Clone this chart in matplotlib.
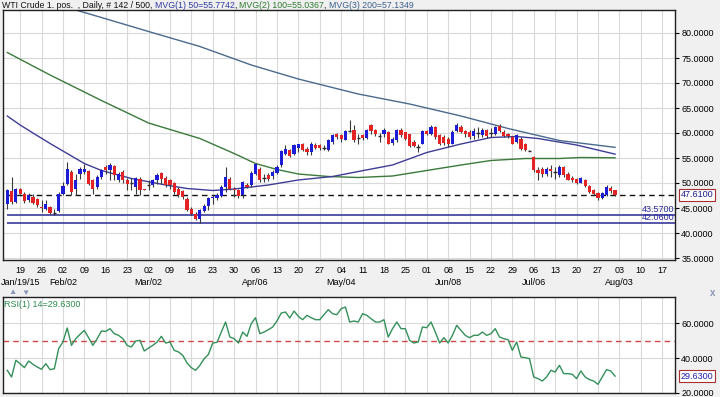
import numpy as np
import matplotlib
matplotlib.use('Agg')
import matplotlib.pyplot as plt
import matplotlib.transforms as mtransforms

plt.rcParams['font.family'] = ['Liberation Sans', 'DejaVu Sans']

# daily candles, Jan 14 .. Jul 31 2015 (one bar per business day)
opens = [45.9, 48.5, 46.3, 48.9, 47.9, 46.6, 47.3, 46.9, 45.3, 44.9,
         45.3, 44.1, 44.4, 47.9, 49.9, 52.3, 48.9, 51.9, 52.3, 52.5,
         50.6, 49.3, 51.3, 53.3, 52.7, 53.4, 50.7, 52.3, 50.6, 50.0,
         49.3, 50.9, 48.9, 49.6, 49.7, 50.6, 52.0, 51.1, 50.6, 50.1,
         48.9, 48.5, 46.9, 44.9, 43.9, 42.9, 44.5, 45.5, 47.0, 47.1,
         47.4, 49.3, 50.9, 48.8, 48.6, 47.6, 49.7, 49.6, 51.9, 52.9,
         51.0, 51.6, 51.4, 52.1, 53.6, 55.9, 56.6, 55.9, 57.0, 57.9,
         56.9, 56.3, 57.6, 57.6, 57.1, 56.6, 58.3, 59.8, 59.6, 58.7,
         60.4, 60.6, 59.0, 59.6, 59.1, 61.6, 60.6, 59.5, 59.8, 60.3,
         58.1, 58.6, 60.7, 60.1, 59.8, 58.3, 57.3, 57.9, 60.5, 59.9,
         61.3, 59.6, 59.3, 58.9, 57.9, 60.5, 61.3, 60.4, 60.3, 59.4,
         60.0, 59.6, 60.6, 60.1, 59.9, 61.5, 60.3, 59.8, 59.3, 58.3,
         58.9, 57.8, 56.5, 55.3, 52.6, 52.7, 51.9, 52.9, 52.3, 51.6,
         53.3, 51.9, 51.1, 50.9, 50.1, 50.6, 49.4, 48.6, 48.1, 47.1,
         47.6, 49.1, 48.6]
highs = [48.9, 51.3, 49.1, 49.1, 48.3, 48.1, 47.9, 47.1, 46.6, 46.6,
         45.4, 44.9, 48.3, 50.3, 54.3, 52.6, 51.9, 53.3, 53.8, 52.6,
         50.9, 51.6, 52.9, 53.6, 54.1, 53.6, 52.3, 52.6, 51.1, 51.1,
         51.3, 51.3, 48.9, 50.7, 50.9, 52.1, 52.3, 51.4, 50.9, 50.3,
         49.3, 48.6, 47.3, 45.3, 44.3, 44.9, 45.9, 47.3, 47.6, 48.1,
         49.6, 53.3, 51.3, 49.3, 48.8, 50.4, 50.0, 52.4, 54.1, 53.3,
         51.9, 52.1, 52.6, 53.7, 56.7, 57.6, 56.9, 57.9, 57.9, 58.1,
         57.3, 58.3, 58.0, 57.9, 57.6, 58.9, 59.8, 60.0, 59.8, 60.6,
         62.6, 61.6, 59.8, 59.8, 60.9, 61.8, 60.9, 60.1, 61.0, 60.5,
         59.3, 60.9, 61.1, 60.3, 59.9, 58.6, 57.9, 60.7, 60.7, 61.6,
         61.4, 59.9, 59.6, 59.3, 60.6, 62.0, 61.6, 60.6, 60.6, 61.1,
         61.3, 61.0, 60.9, 61.0, 61.4, 61.9, 60.6, 60.0, 59.5, 59.8,
         59.2, 58.0, 56.6, 55.4, 53.3, 53.3, 53.3, 53.6, 53.3, 53.6,
         53.4, 52.3, 51.4, 51.1, 51.3, 50.9, 49.6, 48.9, 48.3, 48.3,
         49.6, 49.4, 48.6]
lows = [44.9, 45.9, 46.1, 47.8, 46.1, 46.3, 45.8, 45.3, 44.3, 44.6,
        43.9, 43.6, 44.3, 47.6, 49.6, 47.6, 47.6, 50.9, 51.9, 49.6,
        47.9, 48.9, 50.9, 51.9, 50.7, 50.6, 50.3, 50.1, 48.6, 48.6,
        47.8, 47.6, 48.6, 48.6, 49.3, 49.9, 49.9, 49.3, 48.9, 47.9,
        47.3, 46.9, 44.5, 43.6, 42.6, 42.06, 44.2, 44.6, 45.9, 46.6,
        47.3, 48.3, 48.6, 47.3, 47.1, 47.1, 49.0, 49.3, 51.6, 50.3,
        50.3, 50.5, 50.9, 51.9, 53.3, 55.6, 55.3, 55.6, 56.3, 56.5,
        55.6, 55.6, 56.9, 56.6, 56.6, 56.5, 57.9, 58.9, 58.3, 58.6,
        60.3, 58.3, 57.9, 58.6, 58.9, 59.9, 59.4, 58.3, 59.3, 57.8,
        57.6, 58.3, 59.3, 58.6, 57.3, 57.3, 56.3, 57.8, 59.6, 59.6,
        58.9, 57.6, 57.6, 57.3, 57.8, 60.3, 60.1, 59.3, 58.9, 58.9,
        59.0, 59.3, 59.1, 59.3, 59.6, 60.3, 59.3, 59.0, 57.8, 58.1,
        56.7, 56.5, 56.4, 52.3, 50.6, 51.3, 51.4, 51.3, 50.9, 51.3,
        51.3, 50.6, 50.3, 49.8, 50.0, 49.3, 48.0, 47.6, 46.7, 46.8,
        47.4, 48.1, 47.4]
closes = [48.6, 46.3, 48.9, 47.9, 46.4, 47.6, 46.1, 45.6, 45.1, 45.9,
          44.0, 44.2, 47.9, 49.4, 52.9, 48.3, 50.6, 52.9, 52.9, 49.9,
          48.9, 51.3, 52.6, 52.7, 53.6, 51.6, 51.9, 50.7, 49.9, 50.1,
          51.1, 48.6, 48.7, 49.7, 50.6, 51.6, 50.9, 49.6, 49.6, 48.3,
          47.6, 47.3, 44.6, 43.8, 42.9, 44.6, 45.5, 47.0, 47.3, 47.7,
          49.3, 51.3, 48.8, 48.6, 47.4, 50.3, 49.3, 52.1, 53.9, 50.6,
          51.1, 50.8, 52.1, 53.3, 56.4, 56.9, 55.5, 57.6, 57.7, 56.7,
          56.3, 57.9, 57.1, 57.1, 57.0, 58.7, 59.6, 59.3, 58.9, 60.5,
          60.5, 58.6, 58.9, 59.1, 60.7, 60.5, 59.9, 59.4, 60.6, 57.9,
          58.9, 60.6, 59.6, 58.9, 57.4, 57.4, 57.2, 60.5, 59.9, 61.3,
          59.3, 57.9, 58.0, 57.8, 60.3, 61.6, 60.3, 59.8, 59.3, 60.4,
          60.1, 60.6, 59.4, 60.2, 61.1, 60.5, 59.4, 59.4, 57.9, 59.6,
          56.9, 56.6, 56.45, 52.6, 52.0, 51.8, 52.7, 52.5, 52.2, 53.3,
          51.6, 50.7, 50.6, 50.1, 51.1, 49.4, 48.3, 47.8, 47.1, 48.1,
          49.3, 48.5, 47.61]

# moving averages at a few bars
ma50_x = [0, 3, 6, 10, 14, 18, 22, 29, 37, 42, 48, 53, 61, 68, 76, 82, 90, 98, 106, 113, 119, 124, 133, 142]
ma50_y = [63.4, 61.6, 60.0, 57.9, 55.9, 53.9, 52.5, 50.9, 49.6, 48.9, 48.5, 48.8, 49.6, 50.6, 51.3, 52.3,
          53.6, 56.1, 57.8, 59.1, 59.3, 58.9, 57.6, 55.77]
ma100_x = [0, 10, 22, 33, 45, 53, 58, 63, 68, 75, 82, 90, 98, 106, 113, 121, 129, 134, 142]
ma100_y = [76.1, 71.6, 66.5, 62.0, 58.9, 55.9, 53.9, 52.7, 51.8, 51.3, 51.1, 51.4, 52.5, 53.6, 54.5,
           54.9, 54.9, 55.1, 55.04]
ma200_x = [14, 22, 33, 45, 57, 68, 82, 94, 106, 117, 129, 142]
ma200_y = [85.1, 83.1, 80.3, 77.3, 73.6, 70.8, 67.8, 65.8, 63.4, 60.9, 58.5, 57.13]

support_levels = [43.57, 42.06]
last_close = 47.61

rsi = [32.97, 29.16, 38.69, 36.78, 34.5, 38.3, 36.4, 34.88, 33.55, 36.78,
       33.35, 33.9, 45.35, 49.16, 57.16, 47.26, 51.07, 53.54, 55.83, 51.64,
       47.26, 51.07, 55.45, 55.26, 56.78, 53.93, 52.97, 51.07, 47.26, 46.3,
       49.73, 50.11, 44.02, 45.73, 47.26, 49.16, 52.4, 48.59, 49.16, 44.4,
       43.45, 41.54, 37.16, 34.5, 32.97, 35.83, 39.64, 42.11, 48.59, 48.97,
       54.87, 60.59, 52.02, 51.07, 48.59, 54.87, 52.4, 59.64, 63.07, 53.93,
       54.87, 56.21, 57.73, 61.16, 65.73, 66.3, 62.88, 66.87, 63.83, 61.93,
       64.4, 63.07, 61.93, 61.93, 64.78, 67.64, 65.35, 64.78, 68.21, 69.16,
       60.59, 61.16, 60.59,
       65.35, 64.4, 62.5, 60.59, 60.59, 61.93, 52.02, 56.78, 60.59, 56.78,
       56.78, 50.11, 48.59, 49.16, 57.73, 57.35, 60.59, 54.87, 48.59, 51.64,
       48.59, 52.97, 58.69, 55.83, 52.97, 51.64, 52.97, 52.97, 54.87, 52.97,
       53.93, 56.78, 52.02, 51.07, 50.5, 44.4, 49.16, 40.59, 40.21, 39.64,
       29.16, 28.21, 26.87, 29.16, 32.97, 32.02, 35.83, 31.07, 31.07, 30.69,
       28.21, 32.59, 29.16, 27.64, 26.87, 24.97, 29.16, 33.35, 32.59, 29.63]

day_labels = ['19', '26', '02', '09', '16', '23', '02', '09', '16', '23', '30',
              '06', '13', '20', '27', '04', '11', '18', '25', '01', '08', '15',
              '22', '29', '06', '13', '20', '27', '03', '10', '17']
month_pos = [3, 13, 33, 58, 78, 103, 123, 143]
month_labels = ['Jan/19/15', 'Feb/02', 'Mar/02', 'Apr/06', 'May/04', 'Jun/08', 'Jul/06', 'Aug/03']

W, H = 720, 397
fig = plt.figure(figsize=(W / 100, H / 100), dpi=100, facecolor='#f0f0f0')


def px_axes(l, t, r, b):
    return fig.add_axes([l / W, 1 - b / H, (r - l) / W, (b - t) / H])


ax = px_axes(3, 10, 675, 260)
ax2 = px_axes(3, 297, 675, 393)

O = np.array(opens)
Hh = np.array(highs)
L = np.array(lows)
C = np.array(closes)
idx = np.arange(len(C))
xlim = (-1.0, 156.0)
mondays = np.arange(3, 156, 5)
fs = 6.5

for a in (ax, ax2):
    a.set_facecolor('white')
    a.set_xlim(*xlim)
    a.set_xticks(mondays)
    a.set_xticklabels([])
    a.tick_params(axis='x', length=0)
    a.grid(True, color='#d9d9d9', lw=0.8, zorder=0)
    a.set_axisbelow(True)
    a.yaxis.tick_right()
    a.tick_params(axis='y', direction='out', length=3, labelsize=fs, pad=1.5, width=0.8)
    for s in a.spines.values():
        s.set_color('#202020')
        s.set_linewidth(1.0)

# main price panel
ax.set_ylim(34.6, 84.6)
ax.set_yticks(np.arange(35, 81, 5))
ax.set_yticklabels(['%.4f' % v for v in np.arange(35, 81, 5)])

up = C > O + 0.1
dn = C < O - 0.1
dj = ~(up | dn)
ax.vlines(idx, L, Hh, color='#3a3a3a', lw=0.8, zorder=3)
ax.bar(idx[up], (C - O)[up], bottom=O[up], width=0.75, color='#1c1cd6', zorder=4)
ax.bar(idx[dn], (O - C)[dn], bottom=C[dn], width=0.75, color='#e42424', zorder=4)
ax.hlines(O[dj], idx[dj] - 0.4, idx[dj] + 0.4, color='#2a2a2a', lw=1.0, zorder=4)

ax.plot(ma200_x, ma200_y, color='#4a6a8c', lw=1.0, zorder=2)
ax.plot(ma100_x, ma100_y, color='#3b7a3b', lw=1.0, zorder=2)
ax.plot(ma50_x, ma50_y, color='#3e3e96', lw=1.0, zorder=2)

ax.hlines(support_levels, 0, xlim[1], color='#3a3a9c', lw=1.2, zorder=2)
for lv in support_levels:
    ax.text(xlim[1] - 0.2, lv + 0.15, '%.4f' % lv, ha='right', va='bottom', fontsize=fs,
            color='#2a2aa0', zorder=5)
ax.hlines(last_close, 0, xlim[1], color='#111111', lw=1.0, linestyles=(0, (4, 3)), zorder=2)

tr = mtransforms.blended_transform_factory(ax.transAxes, ax.transData)
ax.text(1.009, last_close, '%.4f' % last_close, transform=tr, ha='left', va='center', fontsize=fs,
        color='#1a1a90', clip_on=False,
        bbox=dict(boxstyle='square,pad=0.2', fc='white', ec='#a83030', lw=0.8))

# date labels
xt = ax.get_xaxis_transform()
for p, lab in zip(mondays, day_labels):
    ax.text(p, -0.042, lab, transform=xt, ha='center', va='center', fontsize=fs, clip_on=False)
for p, lab in zip(month_pos, month_labels):
    ax.text(p, -0.09, lab, transform=xt, ha='center', va='center', fontsize=fs, clip_on=False)

# RSI panel
ax2.set_ylim(20.0, 74.9)
ax2.set_yticks([20, 40, 60])
ax2.set_yticklabels(['20.0000', '40.0000', '60.0000'])
ax2.plot(idx, rsi, color='#34905a', lw=1.0, zorder=3)
ax2.axhline(50, color='#d04848', lw=1.0, ls=(0, (4, 3)), zorder=2)
ax2.text(0.002, 0.97, 'RSI(1) 14=%.4f' % rsi[-1], transform=ax2.transAxes, ha='left', va='top',
         fontsize=fs, color='#2e8a50')
tr2 = mtransforms.blended_transform_factory(ax2.transAxes, ax2.transData)
ax2.text(1.009, rsi[-1], '%.4f' % rsi[-1], transform=tr2, ha='left', va='center', fontsize=fs,
         color='#2020b0', clip_on=False,
         bbox=dict(boxstyle='square,pad=0.2', fc='white', ec='#a83030', lw=0.8))

# title, in coloured pieces
pieces = [('WTI Crude 1. pos.  , Daily, # 142 / 500, ', '#111111'),
          ('MVG(1) 50=55.7742', '#2e3a9e'),
          (', ', '#111111'),
          ('MVG(2) 100=55.0367', '#2e7a32'),
          (', ', '#111111'),
          ('MVG(3) 200=57.1349', '#3a5f8a')]
renderer = fig.canvas.get_renderer()
x0 = 2
for txt, col in pieces:
    t = fig.text(x0 / W, 1 - 1 / H, txt, ha='left', va='top', fontsize=6.3, color=col)
    x0 += t.get_window_extent(renderer).width

fig.text(12 / W, 1 - 293 / H, '▲', ha='center', va='center', fontsize=6, color='#8a96b8')
fig.text(25 / W, 1 - 293 / H, '▼', ha='center', va='center', fontsize=6, color='#8a96b8')
fig.text(713 / W, 1 - 293 / H, 'x', ha='center', va='center', fontsize=7, color='#8a96b8',
         fontweight='bold')

fig.savefig('out.png', dpi=100, facecolor=fig.get_facecolor())
